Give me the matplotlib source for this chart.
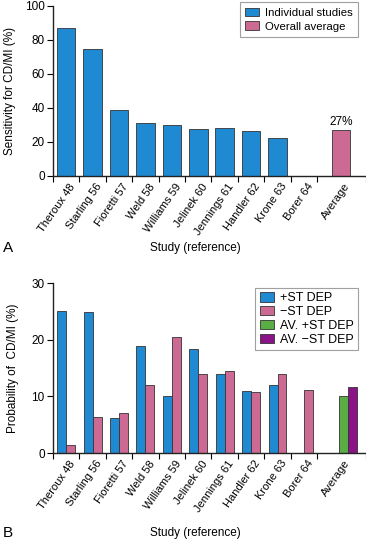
import matplotlib
matplotlib.use("Agg")
import matplotlib.pyplot as plt
import numpy as np
from matplotlib.patches import Patch

plt.rcParams['font.family'] = ['Liberation Sans', 'DejaVu Sans']

studies = ["Theroux 48", "Starling 56", "Fioretti 57", "Weld 58", "Williams 59",
           "Jelinek 60", "Jennings 61", "Handler 62", "Krone 63", "Borer 64"]
avg_label = "Average"

sens = [87, 75, 39, 31, 30, 27.5, 28.5, 26.5, 22.5, 0]
sens_avg = 27

st_pos = [25, 24.8, 6.2, 18.8, 10, 18.3, 14, 11, 12, 0]
st_neg = [1.5, 6.3, 7.1, 12, 20.5, 14, 14.5, 10.8, 13.9, 11.1]
av_pos = 10.1
av_neg = 11.7

BLUE = "#1f8ad2"
PINK = "#cc6a93"
GREEN = "#5aad45"
PURPLE = "#8a1487"
EDGE = "#333333"

W, H = 366, 541
fig = plt.figure(figsize=(W/100, H/100), dpi=100)

def ax_rect(left, top, bottom, right=W):
    return [left/W, 1-bottom/H, (right-left)/W, (bottom-top)/H]

axA = fig.add_axes(ax_rect(53, 6, 176))
axB = fig.add_axes(ax_rect(53, 283, 453))

n = len(studies)
x = np.arange(n)
xA_avg = 10.4
xB_avg = 10.67
xmax = 11.35

def style(ax, ymax, yticks, label_avg_x):
    for s in ['top', 'right']:
        ax.spines[s].set_visible(False)
    for s in ['left', 'bottom']:
        ax.spines[s].set_linewidth(1.0)
        ax.spines[s].set_color('#222222')
    ax.set_xlim(-0.5, xmax)
    ax.set_ylim(0, ymax)
    ax.set_yticks(yticks)
    ax.tick_params(axis='y', direction='out', length=4, width=0.8, labelsize=8.5, pad=2)
    bounds = list(np.arange(-0.5, n, 1.0)) + [xmax]
    ax.set_xticks(bounds, minor=True)
    ax.tick_params(axis='x', which='minor', direction='out', length=4, width=0.8)
    centers = list(x) + [label_avg_x]
    ax.set_xticks(centers)
    ax.set_xticklabels(studies + [avg_label], rotation=55, ha='right',
                       rotation_mode='anchor', fontsize=8)
    ax.tick_params(axis='x', which='major', length=0, pad=4)
    for lab in ax.get_xticklabels():
        lab.set_transform(lab.get_transform() + matplotlib.transforms.ScaledTranslation(3/100, 0, fig.dpi_scale_trans))

# Panel A
axA.bar(x, sens, width=0.7, color=BLUE, edgecolor=EDGE, linewidth=0.6)
axA.bar([xA_avg], [sens_avg], width=0.7, color=PINK, edgecolor=EDGE, linewidth=0.6)
axA.text(xA_avg, sens_avg + 1.5, "27%", ha='center', va='bottom', fontsize=8.5)
style(axA, 100, [0, 20, 40, 60, 80, 100], xA_avg)
axA.set_ylabel("Sensitivity for CD/MI (%)", fontsize=8.5, labelpad=6)
legA = axA.legend(handles=[Patch(facecolor=BLUE, edgecolor=EDGE, linewidth=0.6, label="Individual studies"),
                           Patch(facecolor=PINK, edgecolor=EDGE, linewidth=0.6, label="Overall average")],
                  loc='upper right', bbox_to_anchor=(358/W, 1-2/H), bbox_transform=fig.transFigure,
                  fontsize=8.2, frameon=True, fancybox=False, borderpad=0.5, handlelength=1.2,
                  handleheight=0.8, handletextpad=0.5, labelspacing=0.3, borderaxespad=0)
legA.get_frame().set_edgecolor('#888888')
legA.get_frame().set_linewidth(0.8)

# Panel B
bw = 0.34
xb = x[:]
pos_idx = [i for i in range(n) if st_pos[i] > 0]
axB.bar(xb[pos_idx] - bw/2, [st_pos[i] for i in pos_idx], width=bw, color=BLUE, edgecolor=EDGE, linewidth=0.6)
axB.bar(xb + bw/2, st_neg, width=bw, color=PINK, edgecolor=EDGE, linewidth=0.6)
axB.bar([xB_avg - bw/2], [av_pos], width=bw, color=GREEN, edgecolor=EDGE, linewidth=0.6)
axB.bar([xB_avg + bw/2], [av_neg], width=bw, color=PURPLE, edgecolor=EDGE, linewidth=0.6)
style(axB, 30, [0, 10, 20, 30], xA_avg)
axB.set_ylabel("Probability of  CD/MI (%)", fontsize=8.5, labelpad=9)
legB = axB.legend(handles=[Patch(facecolor=BLUE, edgecolor=EDGE, linewidth=0.6, label="+ST DEP"),
                           Patch(facecolor=PINK, edgecolor=EDGE, linewidth=0.6, label="\u2212ST DEP"),
                           Patch(facecolor=GREEN, edgecolor=EDGE, linewidth=0.6, label="AV. +ST DEP"),
                           Patch(facecolor=PURPLE, edgecolor=EDGE, linewidth=0.6, label="AV. \u2212ST DEP")],
                  loc='upper right', bbox_to_anchor=(358/W, 1-288/H), bbox_transform=fig.transFigure,
                  fontsize=9, frameon=True, fancybox=False, borderpad=0.35, handlelength=1.1,
                  handleheight=0.75, handletextpad=0.5, labelspacing=0.15, borderaxespad=0)
legB.get_frame().set_edgecolor('#888888')
legB.get_frame().set_linewidth(0.8)

# Panel letters and x titles
fig.text(195/W, 1-248/H, "Study (reference)", ha='center', va='center', fontsize=8.5)
fig.text(3/W, 1-248/H, "A", ha='left', va='center', fontsize=11)
fig.text(195/W, 1-533/H, "Study (reference)", ha='center', va='center', fontsize=8.5)
fig.text(3/W, 1-533/H, "B", ha='left', va='center', fontsize=11)

fig.savefig("out.png", dpi=100)
